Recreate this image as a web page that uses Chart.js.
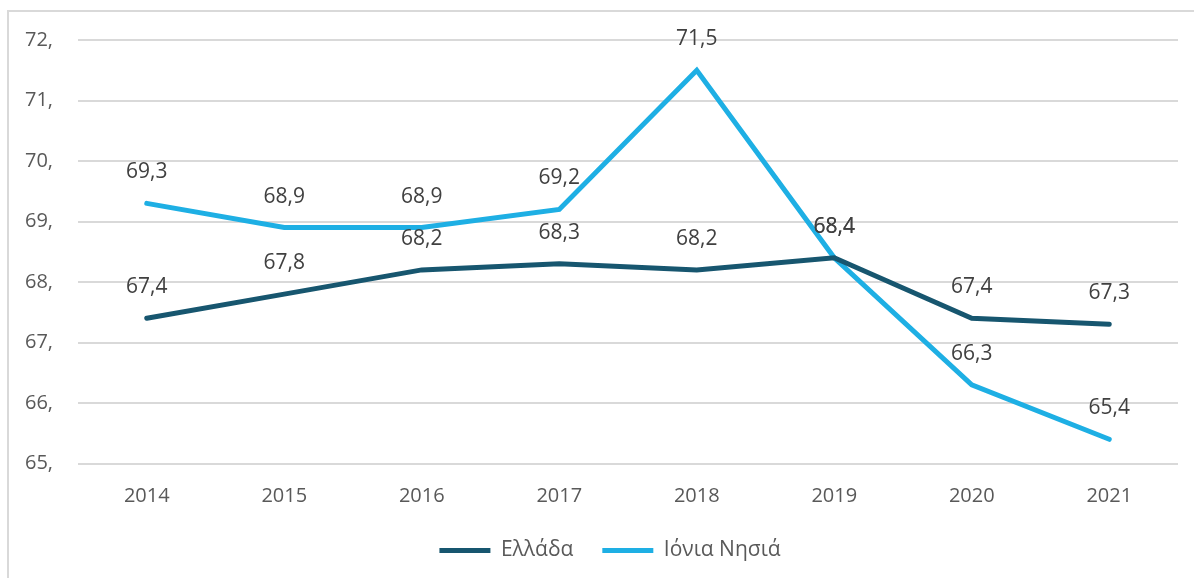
<!DOCTYPE html>
<html>
<head>
<meta charset="utf-8">
<script src="https://cdn.jsdelivr.net/npm/chart.js@4/dist/chart.umd.min.js"></script>
<style>
  html, body { margin: 0; padding: 0; background: #fff; overflow: hidden; }
  #frame { position: absolute; left: 7px; top: 10px; width: 1220px; height: 620px; border: 2px solid #d9d9d9; box-sizing: border-box; }
  #wrap { position: absolute; left: 0; top: 0; width: 1220px; height: 578px; }
</style>
</head>
<body>
<div id="frame"></div>
<div id="wrap"><canvas id="myChart" width="1220" height="578"></canvas></div>
<script>
const years = ["2014", "2015", "2016", "2017", "2018", "2019", "2020", "2021"];
const greece = [67.4, 67.8, 68.2, 68.3, 68.2, 68.4, 67.4, 67.3];
const ionian = [69.3, 68.9, 68.9, 69.2, 71.5, 68.4, 66.3, 65.4];
const seriesNames = ["Ελλάδα", "Ιόνια Νησιά"];
const yMin = 65;
const yMax = 72;

const fontName = "'Open Sans', sans-serif";

// labels above each point, comma as decimal mark
const pointLabels = {
    id: 'pointLabels',
    afterDatasetsDraw(chart) {
        const ctx = chart.ctx;
        ctx.save();
        ctx.font = "21px " + fontName;
        ctx.fillStyle = "#404040";
        ctx.textAlign = "center";
        ctx.textBaseline = "middle";
        chart.data.datasets.forEach((ds, i) => {
            const meta = chart.getDatasetMeta(i);
            meta.data.forEach((pt, j) => {
                const txt = ds.data[j].toFixed(1).replace('.', ',');
                ctx.fillText(txt, pt.x, pt.y - 31);
            });
        });
        ctx.restore();
    }
};

const ctx = document.getElementById('myChart').getContext('2d');
const myChart = new Chart(ctx, {
    type: 'line',
    data: {
        labels: years,
        datasets: [{
            label: seriesNames[0],
            data: greece,
            borderColor: '#17566f',
            backgroundColor: '#17566f',
            borderWidth: 5,
            borderCapStyle: 'round',
            pointRadius: 0,
            tension: 0
        }, {
            label: seriesNames[1],
            data: ionian,
            borderColor: '#1eafe4',
            backgroundColor: '#1eafe4',
            borderWidth: 5,
            borderCapStyle: 'round',
            pointRadius: 0,
            tension: 0
        }]
    },
    options: {
        responsive: false,
        animation: false,
        layout: { padding: { top: 40, right: 0, left: 0, bottom: 7 } },
        plugins: {
            tooltip: { enabled: false },
            legend: {
                position: 'bottom',
                labels: {
                    usePointStyle: true,
                    pointStyle: 'line',
                    pointStyleWidth: 51,
                    boxHeight: 5,
                    color: '#595959',
                    font: { family: fontName, size: 21 },
                    padding: 29
                }
            }
        },
        scales: {
            x: {
                offset: true,
                grid: { display: false },
                border: { display: false },
                ticks: { color: '#595959', font: { family: fontName, size: 20 }, padding: 13 },
                afterFit: (scale) => { scale.height = 47.5; }
            },
            y: {
                min: yMin,
                max: yMax,
                grid: { color: '#d9d9d9', lineWidth: 2, drawTicks: false },
                border: { display: false },
                ticks: {
                    stepSize: 1,
                    color: '#595959',
                    font: { family: fontName, size: 20 },
                    padding: 25,
                    callback: (v) => v + ','
                },
                afterFit: (scale) => { scale.width = 78; }
            },
            // empty spacer on the right so the legend sits where it does in the original
            spacer: {
                position: 'right',
                grid: { display: false },
                border: { display: false },
                ticks: { display: false },
                afterFit: (scale) => { scale.width = 42; }
            }
        }
    },
    plugins: [pointLabels]
});
</script>
</body>
</html>
